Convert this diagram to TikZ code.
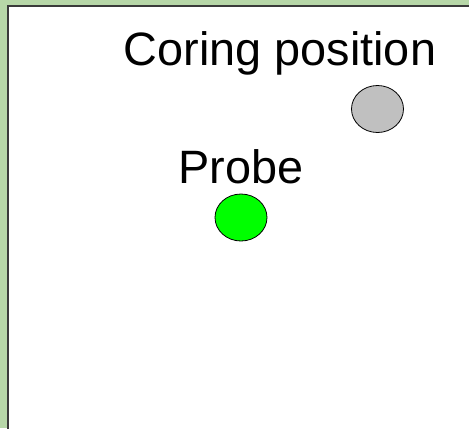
\documentclass[tikz,border=0pt]{standalone}
\usepackage{fontspec}
\setmainfont{Liberation Sans}
\usetikzlibrary{positioning,shapes.geometric}
\definecolor{mossgreen}{HTML}{B7D7A8}
\definecolor{framegray}{HTML}{3A3A3A}
\definecolor{coregray}{HTML}{C0C0C0}
\definecolor{probegreen}{HTML}{00FF00}

\begin{document}
\begin{tikzpicture}[x=1bp,y=-1bp,node distance=9bp]
    \tikzstyle{spot_node}=[ellipse,draw=black,line width=0.8bp,minimum width=52bp,minimum height=47bp,inner sep=0pt]
    \tikzstyle{big_label}=[font=\fontsize{47}{56}\selectfont,inner sep=0pt]
    % backdrop and sheet
    \fill[mossgreen] (0,0) rectangle (469,428);
    \useasboundingbox (0,0) rectangle (469,428);
    \filldraw[fill=white,draw=framegray,line width=1.5bp] (8,6) rectangle (475,440);

    \node[spot_node,fill=coregray]   (coring) at (377.5,109) {};
    \node[spot_node,fill=probegreen] (probe)  at (241,217.5) {};

    \node[big_label,anchor=base] (coring_label) at (280,65) {Coring position};
    \node[big_label,above=9bp of probe] (probe_label) {Probe};
\end{tikzpicture}
\end{document}
